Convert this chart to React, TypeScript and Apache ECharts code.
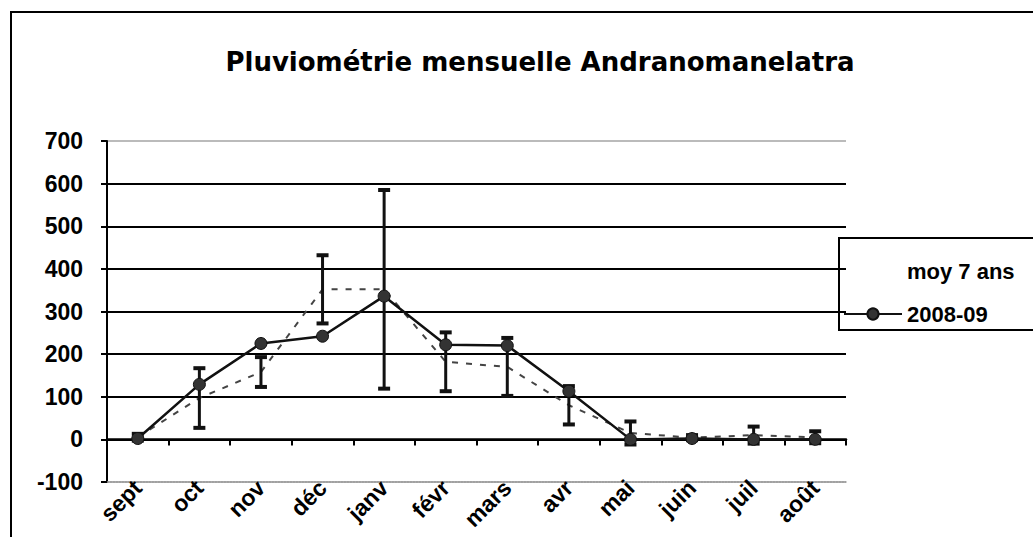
import React, { useEffect, useRef } from 'react';
import * as echarts from 'echarts';

const categories = ['sept', 'oct', 'nov', 'déc', 'janv', 'févr', 'mars', 'avr', 'mai', 'juin', 'juil', 'août'];
const moy7ans = [5, 97, 158, 352, 352, 182, 170, 80, 15, 4, 10, 5];
const moy7ansEcart = [8, 70, 35, 80, 233, 69, 68, 45, 27, 6, 20, 14];
const pluie200809 = [2, 129, 225, 242, 336, 222, 220, 113, 0, 2, 0, 0];
const yMin = -100;
const yMax = 700;
const yInterval = 100;

const FONT = 'Liberation Sans, Arial, sans-serif';

export default function App() {
  const ref = useRef<HTMLDivElement>(null);

  useEffect(() => {
    if (!ref.current) return;
    const chart = echarts.init(ref.current, null, { renderer: 'svg' });
    const errData = categories.map((_, i) => [i, moy7ans[i] - moy7ansEcart[i], moy7ans[i] + moy7ansEcart[i]]);
    const splitColors = ['#bbbbbb', '#000', '#000', '#000', '#000', '#000', '#000', '#000', '#bbbbbb'];

    chart.setOption({
      animation: false,
      backgroundColor: '#fff',
      title: {
        text: 'Pluviométrie mensuelle Andranomanelatra',
        left: 535,
        top: 44,
        textAlign: 'center',
        textStyle: { fontFamily: 'DejaVu Sans, sans-serif', fontWeight: 'bold', fontSize: 26, color: '#000' },
      },
      legend: {
        orient: 'vertical',
        left: 839,
        top: 238,
        padding: [22, 10, 9, 4],
        itemWidth: 58,
        itemHeight: 14,
        itemGap: 21,
        borderWidth: 0,
        z: 6,
        textStyle: { fontFamily: FONT, fontSize: 22, fontWeight: 'bold', color: '#000', lineHeight: 20 },
        data: [
          { name: 'moy 7 ans', icon: 'none' },
          { name: '2008-09' },
        ],
      },
      grid: { left: 107, right: 187, top: 141, bottom: 55, containLabel: false },
      xAxis: [
        {
          type: 'category',
          data: categories,
          position: 'bottom',
          boundaryGap: true,
          axisLine: { onZero: false, lineStyle: { color: '#999', type: 'dotted', width: 1.5 } },
          axisTick: { show: false },
          axisLabel: {
            rotate: 45,
            interval: 0,
            margin: 2,
            fontFamily: FONT,
            fontSize: 23,
            fontWeight: 'bold',
            color: '#000',
          },
          splitLine: { show: false },
        },
        {
          type: 'category',
          data: categories,
          position: 'bottom',
          boundaryGap: true,
          axisLine: { onZero: true, lineStyle: { color: '#000', width: 2.5 } },
          axisTick: { show: true, length: 6, lineStyle: { color: '#000', width: 2 } },
          axisLabel: { show: false },
          splitLine: { show: false },
        },
      ],
      yAxis: {
        type: 'value',
        min: yMin,
        max: yMax,
        interval: yInterval,
        axisLine: { show: true, lineStyle: { color: '#000', width: 2 } },
        axisTick: { show: true, length: 6, lineStyle: { color: '#000', width: 2 } },
        axisLabel: { margin: 24, fontFamily: FONT, fontSize: 23, fontWeight: 'bold', color: '#000' },
        splitLine: { show: true, lineStyle: { color: splitColors, width: 2 } },
      },
      series: [
        {
          name: 'moy 7 ans',
          type: 'line',
          data: moy7ans,
          symbol: 'none',
          showSymbol: false,
          lineStyle: { color: '#444', width: 2, type: [6, 8] },
          itemStyle: { color: '#444' },
          z: 2,
        },
        {
          name: 'moy 7 ans écart',
          type: 'custom',
          data: errData,
          encode: { x: 0, y: [1, 2] },
          z: 3,
          renderItem: (params: any, api: any) => {
            const i = api.value(0);
            const lo = api.coord([i, api.value(1)]);
            const hi = api.coord([i, api.value(2)]);
            const hw = 6;
            const stem = { stroke: '#111', lineWidth: 3 };
            const cap = { stroke: '#111', lineWidth: 4 };
            return {
              type: 'group',
              children: [
                { type: 'line', shape: { x1: lo[0], y1: lo[1], x2: hi[0], y2: hi[1] }, style: stem },
                { type: 'line', shape: { x1: lo[0] - hw, y1: lo[1], x2: lo[0] + hw, y2: lo[1] }, style: cap },
                { type: 'line', shape: { x1: hi[0] - hw, y1: hi[1], x2: hi[0] + hw, y2: hi[1] }, style: cap },
              ],
            };
          },
        },
        {
          name: '2008-09',
          type: 'line',
          data: pluie200809,
          symbol: 'circle',
          symbolSize: 12,
          showSymbol: true,
          lineStyle: { color: '#111', width: 2.5 },
          itemStyle: { color: '#333', borderColor: '#111', borderWidth: 1 },
          z: 4,
        },
      ],
      graphic: [
        {
          type: 'polyline',
          shape: { points: [[11, 537], [11, 12], [1033, 12]] },
          style: { stroke: '#000', lineWidth: 2, fill: 'none' },
          silent: true,
        },
        {
          type: 'polyline',
          z: 5,
          shape: { points: [[1040, 238], [839, 238], [839, 330], [1040, 330]] },
          style: { stroke: '#000', lineWidth: 2, fill: 'none' },
          silent: true,
        },
      ],
    });

    return () => chart.dispose();
  }, []);

  return (
    <div
      ref={ref}
      style={{ position: 'fixed', left: 0, top: 0, width: 1033, height: 537, background: '#fff' }}
    />
  );
}
